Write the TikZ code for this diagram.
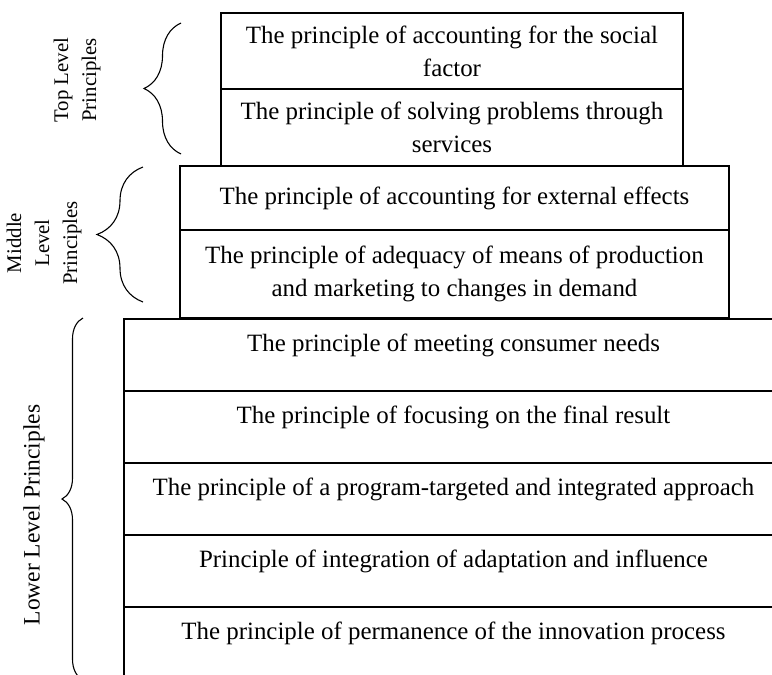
\documentclass[tikz,border=0pt]{standalone}
\usepackage{fontspec}
\setmainfont{Liberation Serif}
\usetikzlibrary{decorations.pathreplacing}

\begin{document}
\begin{tikzpicture}[x=1pt,y=-1pt,line width=1.1pt,
	row/.style={draw,inner sep=0pt,align=center,font=\fontsize{24.9}{33}\selectfont},
	lowrow/.style={draw,inner sep=0pt,minimum width=659pt,text height=32pt,text depth=40pt,font=\fontsize{24.9}{33}\selectfont},
	lbl/.style={rotate=90,align=center,font=\fontsize{20.8}{28}\selectfont},
	brc/.style={decorate,decoration={brace,amplitude=#1}}]
	\useasboundingbox (0,0) rectangle (772,675);
	\clip (0,0) rectangle (772,675);
	
	%TOP LEVEL
	\node[row,minimum width=462pt,minimum height=76pt] (top1) at (452,51) {The principle of accounting for the social\\factor};
	\node[row,minimum width=462pt,minimum height=77pt] (top2) at (452,127.5) {The principle of solving problems through\\services};
	
	%MIDDLE LEVEL
	\node[row,minimum width=549pt,minimum height=64pt] (mid1) at (454.5,198) {The principle of accounting for external effects};
	\node[row,minimum width=549pt,minimum height=88pt] (mid2) at (454.5,274) {The principle of adequacy of means of production\\and marketing to changes in demand};
	
	%LOWER LEVEL
	\foreach \i/\t in {1/The principle of meeting consumer needs,
		2/The principle of focusing on the final result,
		3/The principle of a program-targeted and integrated approach,
		4/Principle of integration of adaptation and influence,
		5/The principle of permanence of the innovation process}{
		\node[lowrow] (low\i) at (453.5,319+72*\i-36) {\t};
	}
	
	%BRACES
	\draw[brc=37pt] (181,154)--(181,23);
	\draw[brc=46pt] (143,302)--(143,167);
	\draw[brc=21pt] (83,680)--(83,318);
	
	%LABELS
	\node[lbl] (toplbl) at (77,80) {Top Level\\Principles};
	\node[lbl] (midlbl) at (44,243) {Middle\\Level\\Principles};
	\node[lbl,font=\fontsize{23.5}{28}\selectfont] (lowlbl) at (34,515) {Lower Level Principles};
\end{tikzpicture}
\end{document}
